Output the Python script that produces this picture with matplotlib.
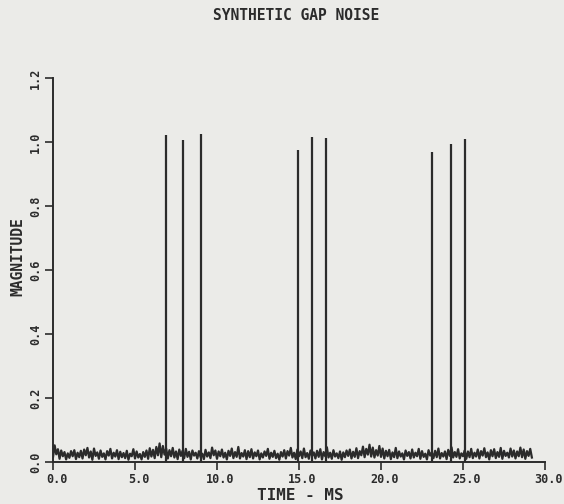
import numpy as np
import matplotlib
matplotlib.use("Agg")
import matplotlib.pyplot as plt
import matplotlib.transforms as mtransforms

# gap pulses (ms, magnitude)
spike_times = [6.87, 7.91, 9.00, 14.96, 15.82, 16.67, 23.10, 24.27, 25.12]
spike_heights = [1.022, 1.006, 1.025, 0.975, 1.016, 1.012, 0.969, 0.994, 1.009]

# background noise, one sample per 0.1 ms, in thousandths
noise_step = 0.1
noise_milli = [
    15, 52, 24, 40, 10, 36, 18, 31, 8, 27, 13, 34, 18, 37, 9, 29, 15, 35, 11, 39,
    21, 44, 14, 33, 7, 42, 19, 30, 10, 36, 16, 27, 8, 34, 20, 41, 11, 29, 17, 37,
    9, 32, 15, 28, 12, 35, 7, 26, 18, 40, 11, 33, 14, 25, 8, 31, 16, 36, 10, 43,
    17, 38, 12, 47, 21, 58, 15, 50, 23, 42, 11, 37, 18, 44, 14, 33, 9, 39, 19, 35,
    12, 41, 16, 32, 8, 36, 20, 29, 11, 34, 15, 26, 9, 38, 17, 30, 12, 45, 21, 36,
    10, 33, 18, 39, 14, 29, 8, 35, 19, 42, 12, 31, 16, 47, 11, 28, 17, 37, 9, 34,
    15, 40, 11, 30, 18, 36, 8, 27, 14, 33, 19, 41, 10, 29, 16, 35, 12, 26, 7, 31,
    17, 37, 11, 34, 20, 44, 14, 29, 9, 39, 18, 33, 12, 42, 15, 28, 10, 36, 19, 30,
    11, 35, 16, 40, 8, 31, 18, 46, 14, 29, 10, 37, 17, 27, 12, 33, 7, 30, 15, 36,
    19, 39, 11, 32, 16, 43, 12, 34, 21, 48, 15, 41, 23, 54, 17, 45, 14, 37, 20, 50,
    16, 42, 11, 35, 18, 38, 9, 30, 15, 44, 12, 33, 17, 27, 8, 36, 19, 31, 11, 39,
    14, 29, 18, 41, 10, 34, 16, 26, 8, 37, 20, 30, 12, 35, 15, 42, 11, 28, 17, 33,
    9, 38, 19, 46, 14, 31, 16, 40, 11, 27, 18, 36, 10, 33, 15, 41, 12, 29, 17, 39,
    11, 34, 20, 43, 15, 30, 8, 37, 18, 40, 12, 31, 16, 44, 10, 35, 19, 29, 14, 42,
    17, 36, 11, 33, 18, 45, 15, 39, 10, 34, 19, 41, 14,
]

x_ticks = [0, 5, 10, 15, 20, 25, 30]
y_ticks = [0.0, 0.2, 0.4, 0.6, 0.8, 1.0, 1.2]

ink = "#2b2b2b"
paper = "#ebebe8"
font = "DejaVu Sans Mono"

fig = plt.figure(figsize=(5.64, 5.04), dpi=100, facecolor=paper)
ax = fig.add_axes([53 / 564, 42 / 504, 492 / 564, 384 / 504])
ax.set_facecolor(paper)

noise = np.array(noise_milli) / 1000.0
t = np.arange(len(noise)) * noise_step
ax.plot(t, noise, color=ink, lw=1.6)
ax.vlines(spike_times, 0, spike_heights, color=ink, lw=1.6)

ax.set_xlim(0, 30)
ax.set_ylim(0, 1.2)
ax.set_xticks(x_ticks)
ax.set_yticks(y_ticks)
ax.set_xticklabels([f"{v:.1f}" for v in x_ticks], fontfamily=font,
                   fontweight="bold", fontsize=8.5, color=ink)
ax.set_yticklabels([f"{v:.1f}" for v in y_ticks], fontfamily=font,
                   fontweight="bold", fontsize=8.5, color=ink,
                   rotation=90, va="center")
ax.tick_params(axis="both", direction="out", length=6, width=1.2, color=ink)
ax.tick_params(axis="x", pad=2)
ax.tick_params(axis="y", pad=2)

offset = mtransforms.ScaledTranslation(2.5 / 72, 0, fig.dpi_scale_trans)
for lab in ax.get_xticklabels():
    lab.set_transform(lab.get_transform() + offset)

for side in ["top", "right"]:
    ax.spines[side].set_visible(False)
for side in ["left", "bottom"]:
    ax.spines[side].set_color(ink)
    ax.spines[side].set_linewidth(1.4)

fig.text(296 / 564, 1 - 15 / 504, "SYNTHETIC GAP NOISE", ha="center", va="center",
         fontfamily=font, fontweight="bold", fontsize=10.5, color=ink)
fig.text(300 / 564, 1 - 495 / 504, "TIME - MS", ha="center", va="center",
         fontfamily=font, fontweight="bold", fontsize=11.5, color=ink)
fig.text(18 / 564, 1 - 257 / 504, "MAGNITUDE", ha="center", va="center",
         rotation=90, fontfamily=font, fontweight="bold", fontsize=10.5, color=ink)

fig.savefig("out.png", dpi=100, facecolor=paper)
